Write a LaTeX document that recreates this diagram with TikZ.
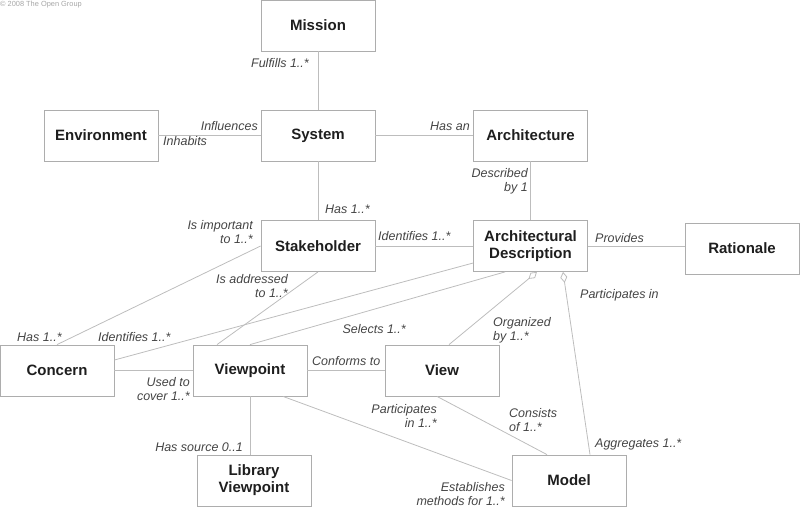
\documentclass[tikz,border=0pt]{standalone}
\usepackage{fontspec}
\setmainfont{Liberation Sans}
\usetikzlibrary{arrows.meta}
\definecolor{boxline}{HTML}{ADADAD}
\definecolor{linegray}{HTML}{BDBDBD}
\definecolor{boxtext}{HTML}{1E1E1E}
\definecolor{labeltext}{HTML}{444444}
\begin{document}
\begin{tikzpicture}[x=1pt,y=-1pt]
        \useasboundingbox (0,0) rectangle (800,507);
        \node[anchor=north west, inner sep=0pt, text=gray!70, font=\fontsize{7.4}{8}\selectfont] (copy) at (0,0.5) {© 2008 The Open Group};
        \begin{scope}[every node/.style={draw=boxline, line width=0.8pt, minimum width=114pt, minimum height=51pt, inner sep=0pt, align=center, text=boxtext, font=\fontsize{15}{17}\selectfont\bfseries}]
            \node (mission) at (318,25.5) {Mission};
            \node (env) at (101,135.5) {Environment};
            \node (system) at (318,135.5) {System};
            \node (arch) at (530.5,135.5) {Architecture};
            \node (stake) at (318,246) {Stakeholder};
            \node (desc) at (530.5,246) {Architectural\\Description};
            \node (rat) at (742,248.5) {Rationale};
            \node (concern) at (57,370.5) {Concern};
            \node (vp) at (250,370.5) {Viewpoint};
            \node (view) at (442,370.5) {View};
            \node (lib) at (254,480.5) {Library\\Viewpoint};
            \node (model) at (569,480.5) {Model};
        \end{scope}
        \begin{scope}[every edge/.style={draw=linegray, line width=0.8pt}]
            \path
                (mission) edge (system)
                (env) edge (system)
                (system) edge (arch)
                (arch) edge (desc)
                (system) edge (stake);
            \path
                (stake) edge (desc)
                (desc.east) edge (desc.east -| rat.west)
                (stake.west) edge (concern.north)
                (stake.south) edge ([xshift=-33pt]vp.north)
                ([yshift=-17pt]desc.west) edge ([yshift=10.5pt]concern.east)
                ([xshift=-25.5pt]desc.south) edge (vp.north);
            \path
                (concern) edge (vp)
                (vp) edge (view)
                (vp.south) edge (vp.south |- lib.north)
                ([xshift=33pt]vp.south) edge (model.west)
                ([xshift=-5pt]view.south) edge ([xshift=-22pt]model.north);
        \end{scope}
        \begin{scope}[every edge/.style={draw=linegray, line width=0.8pt, {Diamond[open,length=11pt,width=7pt]}-}]
            \path
                ([xshift=6.5pt]desc.south) edge ([xshift=7pt]view.north)
                ([xshift=32.5pt]desc.south) edge ([xshift=21pt]model.north);
        \end{scope}
        \begin{scope}[every node/.style={inner sep=0pt, text height=9pt, text depth=2.5pt, text=labeltext, font=\fontsize{12.5}{14}\selectfont\itshape}]
            \node[anchor=east] (fulfills) at (309,64.5) {Fulfills 1..*};
            \node[anchor=east] (influences) at (258,127.5) {Influences};
            \node[anchor=west] (inhabits) at (163,142.5) {Inhabits};
            \node[anchor=east] (hasan) at (470,127.5) {Has an};
            \node[anchor=east, align=right] (described) at (528,188) {Described\\by 1};
            \node[anchor=west] (hasstake) at (325,210.5) {Has 1..*};
            \node[anchor=east, align=right] (important) at (253,240) {Is important\\to 1..*};
            \node[anchor=west] (identstake) at (378,237.5) {Identifies 1..*};
            \node[anchor=west] (provides) at (595,239.5) {Provides};
            \node[anchor=west] (partin) at (580,295.5) {Participates in};
            \node[anchor=west, align=left] (organized) at (493,337) {Organized\\by 1..*};
            \node[anchor=east, align=right] (addressed) at (288,294) {Is addressed\\to 1..*};
            \node[anchor=west] (hasconcern) at (17,338.5) {Has 1..*};
            \node[anchor=west] (identconcern) at (98,338.5) {Identifies 1..*};
            \node[anchor=east] (selects) at (406,330.5) {Selects 1..*};
            \node[anchor=west] (conforms) at (312,362.5) {Conforms to};
            \node[anchor=east, align=right] (usedto) at (190,397) {Used to\\cover 1..*};
            \node[anchor=east] (source) at (243,448.5) {Has source 0..1};
            \node[anchor=east, align=right] (partview) at (437,424) {Participates\\in 1..*};
            \node[anchor=west, align=left] (consists) at (509,428) {Consists\\of 1..*};
            \node[anchor=west] (aggregates) at (595,444.5) {Aggregates 1..*};
            \node[anchor=east, align=right] (establishes) at (505,502) {Establishes\\methods for 1..*};
        \end{scope}
\end{tikzpicture}
\end{document}
